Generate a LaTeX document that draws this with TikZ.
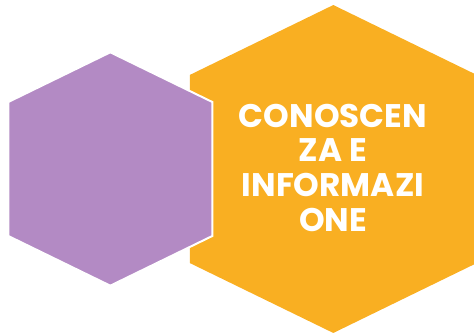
\documentclass[tikz,border=0pt]{standalone}
\usepackage{fontspec}
\setmainfont{Poppins}
\usetikzlibrary{positioning}
\definecolor{hexpurple}{HTML}{B38AC4}
\definecolor{hexorange}{HTML}{F9AF22}
\tikzset{
    hexpath/.style={insert path={(0,-116.7) -- (102,-67) -- (102,67) -- (0,116.7) -- (-102,67) -- (-102,-67) -- cycle}},
    hexlabel/.style={text=white, font=\bfseries\fontsize{24.5}{26}\selectfont, align=center},
}

\begin{document}
\begin{tikzpicture}[x=0.75pt, y=-0.75pt]
    \useasboundingbox (0,0) rectangle (474,334);

    % big orange hexagon, then the purple one over it
    \fill[hexorange, shift={(333.3,169)}, scale=1.405, hexpath];
    \filldraw[fill=hexpurple, draw=white, line width=1.5pt, shift={(110.3,169)}, hexpath];

    \node[hexlabel] (title) at (333,167.5) {CONOSCEN\\ZA E\\INFORMAZI\\ONE};
\end{tikzpicture}
\end{document}
